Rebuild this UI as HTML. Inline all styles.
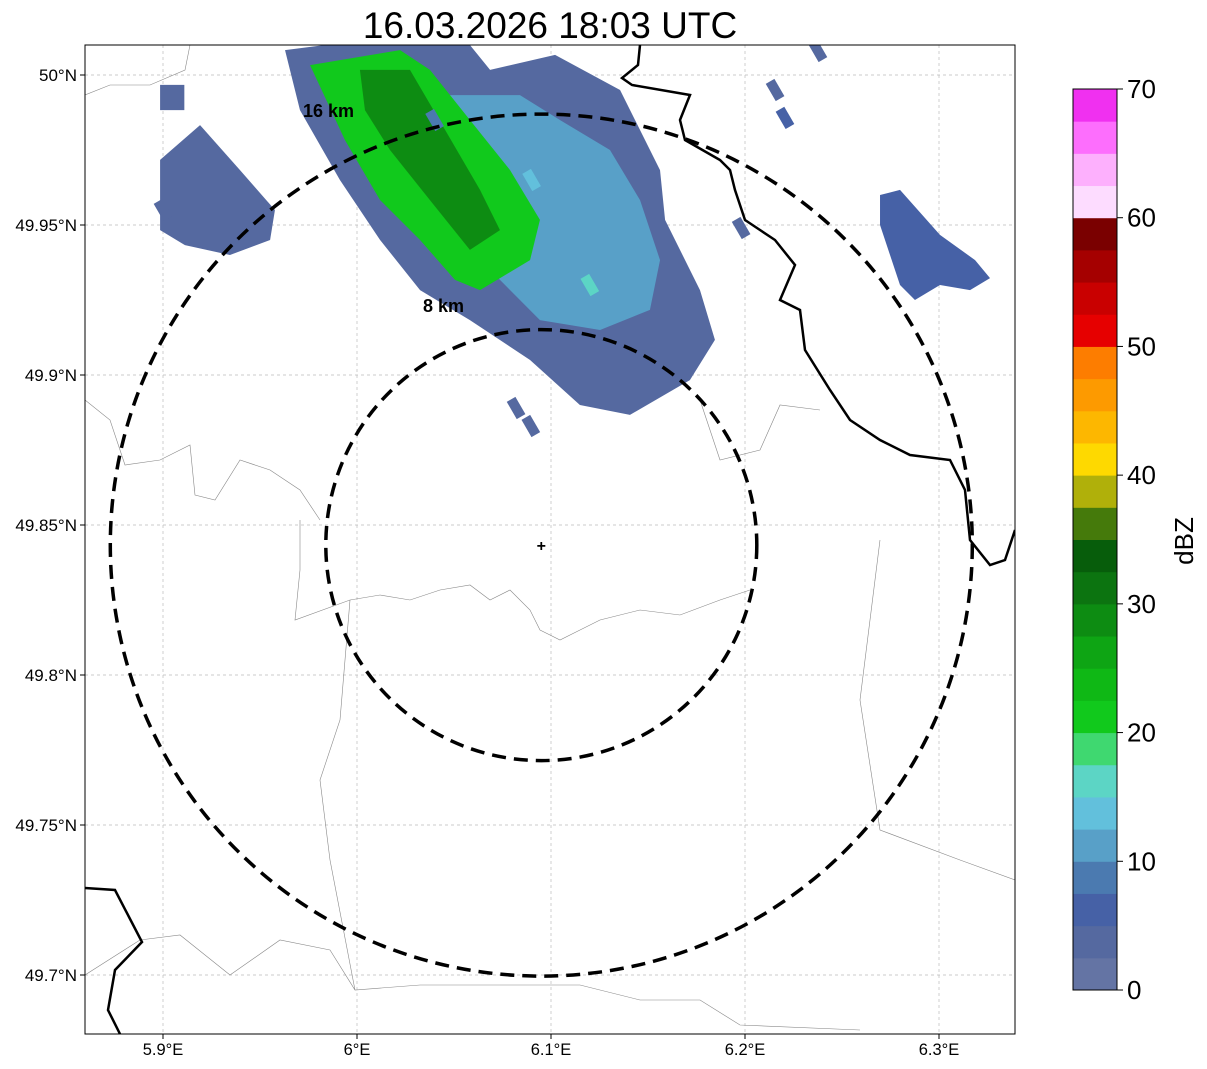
<!DOCTYPE html>
<html><head><meta charset="utf-8"><style>
body{margin:0;background:#fff;}
svg{display:block;font-family:"Liberation Sans","DejaVu Sans",sans-serif;}
</style></head><body>
<svg id="chart" width="1207" height="1069" viewBox="0 0 1207 1069">
<text x="550" y="38" font-size="37" text-anchor="middle">16.03.2026 18:03 UTC</text>
<defs><clipPath id="clip"><rect x="85" y="45" width="930" height="989"/></clipPath></defs>
<g id="grid"></g>
<g id="echo" clip-path="url(#clip)"></g>
<g id="borders" clip-path="url(#clip)"></g>
<g id="rings" clip-path="url(#clip)"></g>
<text x="303" y="117" font-size="18" font-weight="bold">16 km</text>
<text x="423" y="312" font-size="18" font-weight="bold">8 km</text>
<rect x="85" y="45" width="930" height="989" fill="none" stroke="#000" stroke-width="1"/>
<g id="axes"></g>
<g id="cbar"></g>
<text x="0" y="0" transform="translate(1193,541) rotate(-90)" font-size="26" text-anchor="middle">dBZ</text>
</svg>
<script>
const lonTicks=[5.9,6.0,6.1,6.2,6.3];
const lonLabels=["5.9°E","6°E","6.1°E","6.2°E","6.3°E"];
const latTicks=[50.0,49.95,49.9,49.85,49.8,49.75,49.7];
const latLabels=["50°N","49.95°N","49.9°N","49.85°N","49.8°N","49.75°N","49.7°N"];
const cbTicks=[0,10,20,30,40,50,60,70];
const cbColors=["#6474a4","#5569a0","#4661a6","#4b7ab0","#58a0c8","#62c0dc","#5cd5c5","#3fd870","#11c91c","#0fb815","#0ea514","#0d8c12","#0c7410","#075d0b","#457a0b","#b0b00a","#fed900","#fdb700","#fd9a00","#fd7d00","#e60000","#c90000","#a50000","#7a0000","#fddcff","#fdb0fd","#fd6efd","#f030f0"];
const radarLon=6.095, radarLat=49.8433;
const ringKm=[8,16];
const polyDbz=[4,11,21,28,6,4,4];
const polyPts=[
[[5.9629,50.0083],[5.9835,50.010],[6.0582,50.010],[6.0686,50.0017],[6.1021,50.0067],[6.1356,49.995],[6.1562,49.9683],[6.1588,49.9517],[6.1768,49.9283],[6.1845,49.9117],[6.1716,49.8983],[6.1407,49.8867],[6.1149,49.89],[6.0892,49.905],[6.0582,49.9183],[6.0325,49.9283],[6.0119,49.945],[5.9912,49.965],[5.9706,49.9883]],
[[6.0428,49.9933],[6.0840,49.9933],[6.1046,49.985],[6.1304,49.975],[6.1459,49.9583],[6.1562,49.9383],[6.1510,49.9217],[6.1253,49.915],[6.0943,49.9183],[6.0737,49.9317],[6.0531,49.945],[6.0325,49.9583],[6.0222,49.975]],
[[5.9758,50.0033],[6.0222,50.0083],[6.0376,50.0017],[6.0582,49.985],[6.0789,49.9683],[6.0943,49.9517],[6.0892,49.9383],[6.0634,49.9283],[6.0505,49.9317],[6.0325,49.945],[6.0119,49.9583],[5.9938,49.9783]],
[[6.0015,50.0017],[6.0273,50.0017],[6.0454,49.9817],[6.0634,49.9617],[6.0737,49.9483],[6.0582,49.9417],[6.0376,49.9583],[6.017,49.975],[6.0041,49.9883]],
[[6.2696,49.96],[6.2799,49.9617],[6.3005,49.9467],[6.3186,49.9383],[6.3263,49.9323],[6.316,49.9283],[6.3005,49.93],[6.2876,49.925],[6.2799,49.93],[6.2696,49.95]],
[[5.8985,49.9717],[5.9191,49.9833],[5.9397,49.9683],[5.9577,49.955],[5.9552,49.945],[5.9345,49.94],[5.9113,49.9433],[5.8985,49.9483]],
[[5.8985,49.9967],[5.911,49.9967],[5.911,49.9883],[5.8985,49.9883]]
];
const cellLon=[6.2155,6.2206,6.082,6.0896,6.2376,6.198,5.9,6.04,6.12,6.09];
const cellLat=[49.995,49.9857,49.889,49.883,50.008,49.949,49.955,49.985,49.93,49.965];
const cellDbz=[4,5,4,4,4,3,4,9,15,14];

const S="http://www.w3.org/2000/svg";
const X=lon=>163+(lon-5.9)*1940;
const Y=lat=>75+(50-lat)*3000;
const CY=v=>990-v*(901/70);
function mk(t,a,p){const e=document.createElementNS(S,t);for(const k in a)e.setAttribute(k,a[k]);p.appendChild(e);return e;}
function color(d){return cbColors[Math.max(0,Math.min(27,Math.floor(d/2.5)))];}
const grid=document.getElementById('grid'),axes=document.getElementById('axes');
lonTicks.forEach((v,i)=>{
 const g=mk('line',{x1:X(v),x2:X(v),y1:45,y2:1034,stroke:'#bbb','stroke-width':0.7,'stroke-dasharray':'3,3'},grid);
 
 
 const t=mk('line',{x1:X(v),x2:X(v),y1:1034,y2:1039,stroke:'#000'},axes);
 
 
 const l=mk('text',{x:X(v),y:1055,'font-size':16.5,'text-anchor':'middle'},axes);l.textContent=lonLabels[i];
 
 
});
latTicks.forEach((v,i)=>{
 const g=mk('line',{x1:85,x2:1015,y1:Y(v),y2:Y(v),stroke:'#bbb','stroke-width':0.7,'stroke-dasharray':'3,3'},grid);
 
 
 const t=mk('line',{x1:80,x2:85,y1:Y(v),y2:Y(v),stroke:'#000'},axes);
 
 
 const l=mk('text',{x:77,y:Y(v)+6,'font-size':17,'text-anchor':'end'},axes);l.textContent=latLabels[i];
 
 
});
const echo=document.getElementById('echo');
polyPts.forEach((pts,i)=>{
 const p=mk('polygon',{points:pts.map(q=>X(q[0])+','+Y(q[1])).join(' '),fill:color(polyDbz[i])},echo);
 
 
});
cellLon.forEach((v,i)=>{
 const x=X(v),y=Y(cellLat[i]);
 const r=mk('rect',{x:x-5,y:y-10,width:10,height:20,fill:color(cellDbz[i]),transform:`rotate(-30 ${x} ${y})`},echo);
 
 
});
const borders=document.getElementById('borders');
const thin=[
"M300,520 L300,570 L295,620 L350,600 L380,595 L410,600 L440,590 L470,585 L490,600 L510,590 L530,610 L540,630 L560,640 L580,630 L600,620 L640,610 L680,615 L720,600 L750,590",
"M85,400 L110,420 L125,465 L160,460 L190,445 L195,495 L215,500 L240,460 L270,470 L300,490 L320,520",
"M85,975 L140,940 L180,935 L230,975 L280,940 L330,950 L355,990 L420,985 L520,985 L580,985 L640,1000 L700,1000 L740,1025 L860,1030",
"M880,540 L860,700 L880,830 L960,860 L1015,880",
"M350,600 L340,720 L320,780 L330,860 L355,990",
"M85,95 L110,85 L150,85 L185,70 L190,45",
"M700,400 L720,460 L760,450 L780,405 L820,410"];
thin.forEach(d=>{const p=mk('path',{d:d,fill:'none',stroke:'#888','stroke-width':0.6},borders);
 
 });
const thick=["M640,45 L638,65 L622,78 L632,85 L690,95 L680,120 L685,140 L720,160 L730,170 L735,190 L745,220 L760,230 L775,240 L795,265 L780,300 L800,310 L805,350 L830,390 L850,420 L880,440 L910,455 L950,460 L965,490 L970,540 L990,565 L1005,560 L1015,530",
"M85,888 L115,890 L142,942 L115,970 L108,1010 L120,1034"];
thick.forEach(d=>{const p=mk('path',{d:d,fill:'none',stroke:'#000','stroke-width':2.5},borders);
 
 });
const rings=document.getElementById('rings');
const pxPerKm=215.5/8;
ringKm.forEach((k,i)=>{
 const c=mk('circle',{cx:X(radarLon),cy:Y(radarLat),r:k*pxPerKm,fill:'none',stroke:'#000','stroke-width':3.5,'stroke-dasharray':'14,8'},rings);
 
 
});
const m=mk('text',{x:X(radarLon),y:Y(radarLat)+6,'font-size':16,'font-weight':'bold','text-anchor':'middle'},rings);m.textContent='+';


const cb=document.getElementById('cbar');
cbColors.forEach((c,i)=>{
 const r=mk('rect',{x:1073,y:CY((i+1)*2.5),width:44,height:CY(i*2.5)-CY((i+1)*2.5)+0.5,fill:c},cb);
 
 
});
mk('rect',{x:1073,y:89,width:44,height:901,fill:'none',stroke:'#000','stroke-width':1},cb);
cbTicks.forEach(v=>{
 mk('line',{x1:1117,x2:1123,y1:CY(v),y2:CY(v),stroke:'#000'},cb);
 const t=mk('text',{x:1127,y:CY(v)+9,'font-size':26},cb);t.textContent=v;
 
 
});
</script>
</body></html>
